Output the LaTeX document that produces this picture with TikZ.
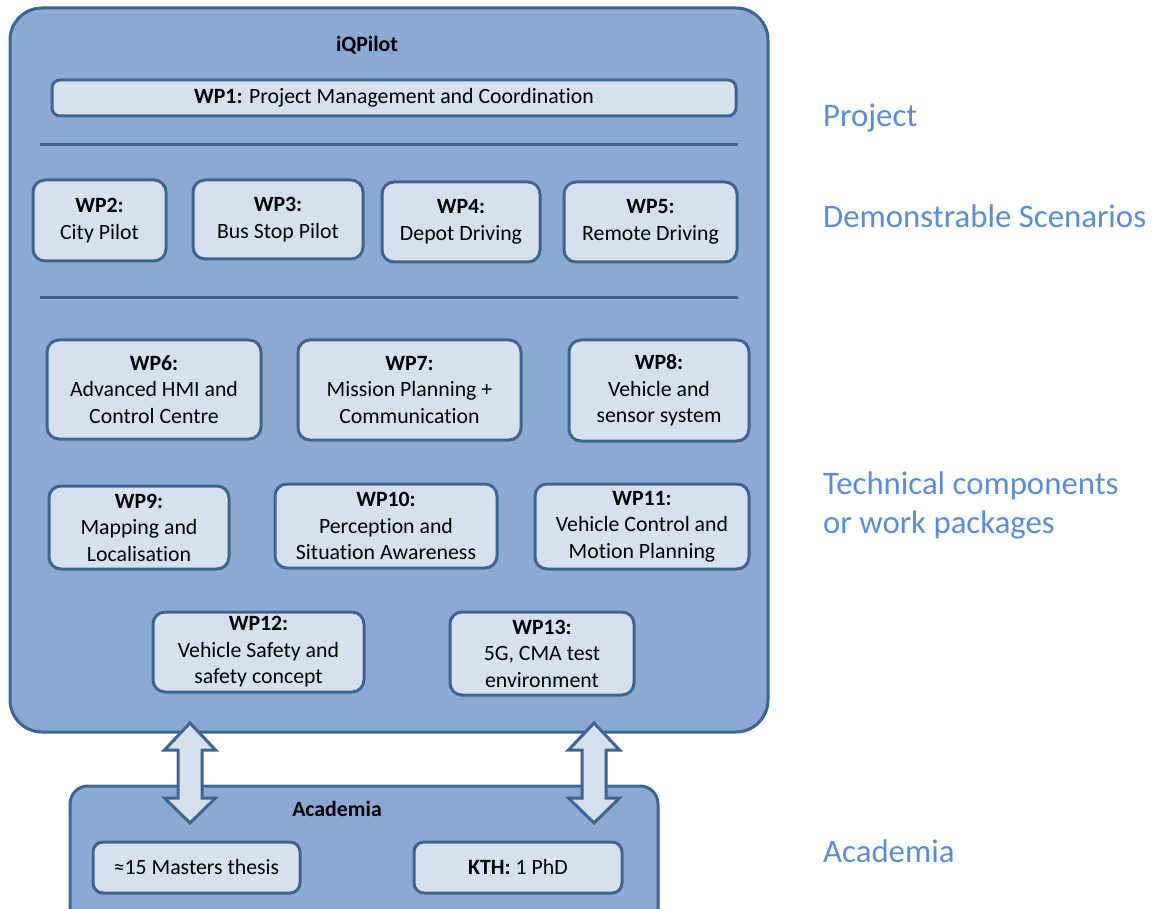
\documentclass[tikz,border=0pt]{standalone}
\usepackage{fontspec}
\setmainfont{Carlito}[Ligatures={NoCommon}]
\definecolor{mainfill}{HTML}{8AAAD4}
\definecolor{boxfill}{HTML}{D7E1EE}
\definecolor{edge}{HTML}{3D6591}
\definecolor{sidetext}{HTML}{5A8DD6}
\begin{document}
\begin{tikzpicture}[x=1pt,y=-1pt,
  bigbox/.style={draw=edge,fill=mainfill,line width=3pt},
  wp/.style={draw=edge,fill=boxfill,line width=3pt,rounded corners=12pt,inner sep=0pt,
    align=center,font=\fontsize{21.8}{26.5}\selectfont},
  sep/.style={draw=edge,line width=3pt},
  title/.style={font=\fontsize{21.8}{26}\selectfont\bfseries},
  side/.style={text=sidetext,anchor=base west,inner sep=0pt,font=\fontsize{32.8}{37}\selectfont},
  barrow/.style={draw=edge,fill=boxfill,line width=3pt,line join=miter}]
\useasboundingbox (0,0) rectangle (1157,909);
% main box
\draw[bigbox,rounded corners=32pt] (10,8) rectangle (768,732);
% academia box (bottom cut off)
\begin{scope}
\clip (0,0) rectangle (1157,909);
\draw[bigbox,rounded corners=18pt] (70,786) rectangle (658,940);
\end{scope}
\node[title] (iq) at (367,45) {iQPilot};
\node[wp,minimum width=684pt,minimum height=36pt,rounded corners=8pt] (wp1) at (394,98) {\textbf{WP1:} Project Management and Coordination};
\draw[sep] (40,145) -- (738,145);
\node[wp,minimum width=133pt,minimum height=81pt] (wp2) at (99.5,220.5) {\textbf{WP2:}\\City Pilot};
\node[wp,minimum width=170pt,minimum height=79pt] (wp3) at (278,219.5) {\textbf{WP3:}\\Bus Stop Pilot};
\node[wp,minimum width=158pt,minimum height=80pt] (wp4) at (461,222) {\textbf{WP4:}\\Depot Driving};
\node[wp,minimum width=173pt,minimum height=80pt] (wp5) at (650.5,222) {\textbf{WP5:}\\Remote Driving};
\draw[sep] (40,298) -- (738,298);
\node[wp,minimum width=214pt,minimum height=99pt] (wp6) at (154,389.5) {\textbf{WP6:}\\Advanced HMI and\\Control Centre};
\node[wp,minimum width=223pt,minimum height=100pt] (wp7) at (409.5,390) {\textbf{WP7:}\\Mission Planning +\\Communication};
\node[wp,minimum width=180pt,minimum height=101pt] (wp8) at (659,390.5) {\textbf{WP8:}\\Vehicle and\\sensor system};
\node[wp,minimum width=180pt,minimum height=83pt] (wp9) at (139,527.5) {\textbf{WP9:}\\Mapping and\\Localisation};
\node[wp,minimum width=222pt,minimum height=84pt] (wp10) at (386,526) {\textbf{WP10:}\\Perception and\\Situation Awareness};
\node[wp,minimum width=214pt,minimum height=85pt] (wp11) at (642,526.5) {\textbf{WP11:}\\Vehicle Control and\\Motion Planning};
\node[wp,minimum width=211pt,minimum height=80pt] (wp12) at (258.5,652) {\textbf{WP12:}\\Vehicle Safety and\\safety concept};
\node[wp,minimum width=184pt,minimum height=83pt] (wp13) at (542,653.5) {\textbf{WP13:}\\5G, CMA test\\environment};
% academia
\node[title] (acad) at (337,809) {Academia};
\node[wp,minimum width=207pt,minimum height=51pt,rounded corners=10pt] (ms) at (196.5,867.5) {≈15 Masters thesis};
\node[wp,minimum width=208pt,minimum height=51pt,rounded corners=10pt] (kth) at (518,867.5) {\textbf{KTH:} 1 PhD};
% block arrows
\foreach \cx/\nm in {190/la,594/ra}{
  \draw[barrow] (\cx,723) -- (\cx+25.5,750) -- (\cx+12,750) -- (\cx+12,798) -- (\cx+25.5,798)
    -- (\cx,823) -- (\cx-25.5,798) -- (\cx-12,798) -- (\cx-12,750) -- (\cx-25.5,750) -- cycle;
}
% side labels
\node[side] (s1) at (823,127) {Project};
\node[side] (s2) at (823,228) {Demonstrable Scenarios};
\node[side] (s3) at (823,494) {Technical components};
\node[side] (s4) at (823,533) {or work packages};
\node[side] (s5) at (823,862) {Academia};
\end{tikzpicture}
\end{document}
